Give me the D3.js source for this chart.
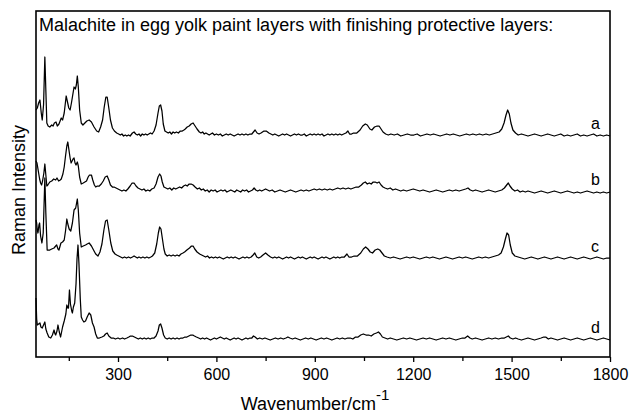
<!DOCTYPE html>
<html>
<head>
<meta charset="utf-8">
<script src="https://cdn.jsdelivr.net/npm/d3@7"></script>
<style>
  body { margin: 0; background: #fff; }
  svg text { font-family: "Liberation Sans", Arial, sans-serif; fill: #000; }
</style>
</head>
<body>
<div id="chart"></div>
<script>
// Raman spectra, [wavenumber cm-1, intensity above own baseline]
const spectrumA = [[50,25],[54,27],[58,32],[62,35],[66,22],[69,15],[73,30],[77,78],[80,45],[83,12],[87,9],[92,8],[98,10],[102,9],[106,12],[111,13],[115,9],[120,11],[127,17],[131,15],[136,22],[142,39],[146,33],[150,27],[154,25],[158,32],[162,40],[166,48],[170,46],[173,50],[176,59],[179,48],[183,25],[188,12],[193,10],[199,12],[205,14],[212,15],[219,13],[227,8],[235,4],[241,3],[247,8],[253,15],[258,28],[263,38],[267,38],[272,27],[277,15],[283,7],[289,4],[296,2],[302,1],[307,0],[312,1],[317,-1],[322,0],[327,-1],[332,0],[337,-1],[344,2],[349,3],[354,1],[359,0],[364,1],[369,-1],[374,1],[379,0],[384,1],[389,0],[394,1],[399,2],[404,1],[410,4],[416,10],[422,22],[426,29],[430,30],[434,24],[438,11],[443,4],[448,3],[453,2],[458,3],[463,1],[468,3],[473,2],[478,3],[484,2],[490,4],[496,4],[501,5],[505,6],[511,8],[517,9],[523,11],[529,12],[535,9],[541,6],[548,3],[553,2],[558,3],[563,1],[568,2],[573,1],[578,0],[583,1],[588,2],[594,0],[600,1],[606,0],[612,1],[618,-1],[624,0],[630,1],[636,0],[642,1],[648,0],[654,-1],[660,0],[666,1],[672,0],[678,1],[684,0],[690,1],[696,0],[702,1],[708,1],[713,3],[718,5],[724,2],[730,1],[736,2],[745,4],[752,4],[760,2],[766,1],[772,0],[778,1],[784,0],[790,-1],[796,0],[802,1],[808,0],[814,1],[820,0],[826,-1],[832,0],[838,1],[844,0],[850,1],[856,0],[862,0],[868,1],[874,-1],[880,0],[886,1],[892,0],[898,1],[904,0],[910,1],[916,0],[922,1],[928,-1],[934,0],[940,1],[946,0],[952,1],[958,0],[964,1],[970,0],[976,1],[982,0],[988,1],[995,2],[1001,4],[1006,1],[1012,1],[1018,2],[1028,2],[1038,5],[1046,9],[1054,11],[1060,10],[1068,6],[1074,5],[1082,8],[1090,9],[1096,9],[1102,6],[1108,3],[1116,1],[1124,0],[1132,1],[1142,0],[1152,1],[1162,-1],[1172,0],[1182,1],[1192,0],[1202,0],[1212,1],[1222,-1],[1232,0],[1242,1],[1252,0],[1262,1],[1272,0],[1282,-1],[1292,0],[1302,1],[1312,0],[1322,1],[1332,0],[1342,-1],[1352,0],[1362,1],[1372,0],[1382,1],[1392,0],[1402,1],[1412,0],[1422,1],[1432,0],[1442,1],[1452,2],[1462,3],[1470,6],[1477,12],[1483,20],[1488,25],[1493,21],[1498,12],[1504,5],[1512,2],[1520,0],[1530,1],[1540,0],[1550,-1],[1560,0],[1570,1],[1580,0],[1590,-1],[1600,0],[1610,1],[1620,0],[1630,-1],[1640,0],[1650,1],[1660,-1],[1670,0],[1680,-1],[1690,0],[1700,1],[1710,-1],[1720,0],[1730,-1],[1740,0],[1750,1],[1760,-1],[1770,0],[1780,-1],[1790,0],[1800,-1]];

const spectrumB = [[50,30],[53,28],[57,20],[61,12],[64,8],[67,6],[70,10],[74,18],[77,27],[80,16],[83,5],[86,6],[92,9],[98,10],[104,12],[110,11],[114,13],[119,10],[124,11],[127,12],[132,17],[136,24],[140,35],[144,45],[147,49],[150,42],[154,33],[157,28],[160,30],[163,32],[166,33],[169,28],[172,26],[176,29],[179,25],[183,14],[188,7],[194,8],[199,9],[204,10],[209,14],[213,16],[219,16],[223,11],[228,6],[232,4],[237,5],[243,5],[249,7],[255,10],[261,14],[267,15],[272,11],[277,6],[283,4],[288,4],[294,3],[300,2],[306,1],[312,0],[318,1],[324,0],[330,2],[337,5],[343,8],[349,8],[355,5],[361,3],[367,2],[373,1],[379,2],[385,0],[391,1],[397,0],[403,2],[410,3],[416,7],[422,14],[427,17],[431,15],[435,9],[440,4],[446,3],[452,2],[458,3],[464,1],[470,3],[476,2],[482,3],[488,4],[494,3],[500,5],[506,6],[511,5],[517,7],[523,7],[529,6],[535,4],[542,2],[548,3],[554,1],[560,2],[566,0],[572,1],[578,-1],[584,1],[590,0],[596,1],[602,-1],[608,0],[614,1],[620,0],[626,1],[632,-1],[638,0],[644,1],[650,0],[656,-1],[662,1],[668,0],[674,-1],[680,1],[686,0],[692,1],[698,-1],[704,0],[710,1],[715,3],[720,1],[726,0],[732,1],[738,0],[744,1],[750,2],[756,1],[762,0],[770,1],[778,-1],[786,0],[794,1],[802,0],[810,-1],[818,0],[826,1],[834,0],[842,-1],[850,0],[858,1],[866,0],[874,1],[882,0],[890,1],[898,2],[906,1],[914,2],[922,1],[930,2],[938,1],[946,2],[954,1],[962,2],[970,3],[978,2],[986,3],[994,2],[1002,3],[1010,2],[1018,3],[1026,4],[1034,4],[1042,6],[1048,8],[1054,9],[1060,7],[1066,8],[1072,7],[1078,9],[1084,9],[1090,8],[1096,9],[1102,6],[1108,4],[1114,3],[1122,2],[1130,3],[1138,1],[1146,2],[1154,1],[1162,0],[1170,1],[1180,0],[1190,1],[1200,2],[1210,1],[1220,0],[1230,1],[1240,0],[1250,-1],[1260,0],[1270,1],[1280,0],[1290,-1],[1300,0],[1310,1],[1320,0],[1330,1],[1340,0],[1350,1],[1360,2],[1367,3],[1374,1],[1382,0],[1390,1],[1400,0],[1410,-1],[1420,0],[1430,1],[1440,0],[1450,-1],[1460,0],[1470,1],[1478,3],[1485,6],[1490,8],[1495,5],[1502,2],[1510,0],[1518,1],[1526,-1],[1534,0],[1542,-1],[1550,0],[1560,-1],[1570,-2],[1580,-1],[1590,0],[1600,-1],[1610,-2],[1620,-1],[1630,0],[1640,-1],[1650,-2],[1660,-1],[1670,0],[1680,-1],[1690,-2],[1700,-1],[1710,-2],[1720,-1],[1730,0],[1740,-1],[1750,-2],[1760,-1],[1770,-2],[1780,-1],[1790,-2],[1800,-1]];

const spectrumC = [[50,38],[52,35],[54,28],[56,25],[59,33],[61,35],[64,22],[68,15],[72,25],[77,80],[80,45],[84,8],[88,8],[92,8],[98,9],[105,10],[110,12],[113,13],[117,9],[120,8],[126,15],[131,16],[136,18],[140,27],[144,39],[147,34],[151,29],[156,27],[161,35],[166,48],[171,50],[176,59],[179,48],[183,25],[188,11],[194,12],[201,13],[206,14],[212,15],[219,12],[227,7],[232,4],[239,2],[245,6],[251,14],[257,28],[262,37],[267,38],[272,28],[278,15],[284,7],[291,4],[296,3],[302,2],[308,1],[314,0],[320,1],[326,0],[332,1],[338,0],[344,1],[349,2],[354,1],[359,0],[364,1],[370,0],[376,1],[382,0],[388,1],[394,0],[400,1],[405,2],[412,5],[418,14],[423,25],[427,31],[431,29],[435,20],[440,9],[444,4],[450,2],[456,3],[462,2],[468,3],[474,2],[480,3],[486,2],[492,4],[498,5],[503,6],[510,8],[518,10],[524,12],[529,12],[534,9],[541,6],[549,4],[555,3],[561,2],[567,1],[573,2],[579,0],[585,1],[591,0],[597,1],[603,0],[609,1],[615,0],[621,-1],[627,0],[633,1],[639,0],[645,1],[651,0],[657,1],[663,0],[669,-1],[675,0],[681,1],[687,0],[693,1],[699,0],[706,1],[712,3],[717,5],[723,1],[729,0],[735,1],[742,3],[750,5],[757,3],[765,1],[772,0],[778,1],[784,0],[790,1],[796,0],[802,-1],[808,0],[814,1],[820,0],[826,1],[832,0],[838,-1],[844,0],[850,1],[856,0],[862,1],[868,0],[874,-1],[880,0],[886,1],[892,0],[898,1],[904,0],[910,-1],[916,0],[922,1],[928,0],[934,1],[940,0],[946,-1],[952,0],[958,1],[964,0],[970,1],[976,0],[982,1],[990,1],[998,4],[1004,1],[1012,1],[1020,2],[1030,2],[1040,5],[1048,9],[1055,11],[1062,9],[1069,6],[1076,5],[1084,8],[1092,9],[1098,8],[1105,5],[1112,2],[1120,1],[1130,0],[1140,1],[1150,0],[1160,-1],[1170,0],[1180,1],[1190,0],[1200,1],[1210,0],[1220,-1],[1230,0],[1240,1],[1250,0],[1260,1],[1270,0],[1280,-1],[1290,0],[1300,1],[1310,0],[1320,-1],[1330,0],[1340,1],[1350,0],[1360,1],[1370,0],[1380,-1],[1390,0],[1400,1],[1410,0],[1420,1],[1430,0],[1440,1],[1450,2],[1460,3],[1468,5],[1475,11],[1481,19],[1486,25],[1491,23],[1496,13],[1502,5],[1510,2],[1520,1],[1530,0],[1540,-1],[1550,0],[1560,1],[1570,0],[1580,-1],[1590,0],[1600,1],[1610,0],[1620,-1],[1630,0],[1640,1],[1650,0],[1660,-1],[1670,0],[1680,1],[1690,0],[1700,-1],[1710,0],[1720,1],[1730,0],[1740,-1],[1750,0],[1760,1],[1770,0],[1780,-1],[1790,0],[1800,0]];

const spectrumD = [[50,41],[52,20],[54,14],[58,15],[62,16],[65,12],[69,11],[73,14],[77,17],[80,10],[84,6],[89,2],[95,1],[100,4],[105,9],[108,5],[110,4],[114,8],[117,14],[121,7],[125,2],[131,12],[136,18],[141,25],[144,34],[147,31],[149,31],[152,49],[155,35],[159,28],[161,26],[164,32],[168,36],[172,55],[175,80],[178,94],[181,75],[185,40],[188,22],[192,19],[196,17],[201,18],[206,22],[212,26],[217,24],[222,16],[227,12],[232,5],[237,1],[243,1],[251,2],[257,3],[262,5],[267,6],[272,3],[279,1],[286,1],[292,0],[300,1],[306,0],[314,1],[320,0],[327,1],[333,2],[338,3],[344,3],[350,2],[356,1],[362,0],[368,1],[374,0],[380,1],[386,0],[392,1],[398,0],[404,1],[410,1],[416,3],[422,8],[426,14],[430,15],[434,11],[439,4],[444,1],[450,0],[456,1],[462,0],[468,1],[474,0],[480,1],[486,0],[492,1],[498,1],[504,2],[510,2],[516,3],[522,4],[528,4],[533,3],[539,2],[546,1],[552,0],[558,1],[564,0],[570,1],[576,0],[582,-1],[588,0],[594,1],[600,0],[606,1],[612,2],[618,1],[624,0],[630,1],[636,0],[642,-1],[648,0],[654,1],[660,0],[666,1],[672,0],[678,-1],[684,0],[690,1],[696,0],[702,1],[708,1],[713,3],[718,2],[725,0],[732,1],[740,0],[748,1],[756,0],[764,-1],[772,0],[780,1],[788,0],[796,1],[804,0],[812,1],[818,2],[824,1],[832,0],[840,1],[848,0],[856,-1],[864,0],[872,1],[880,0],[888,1],[896,0],[904,-1],[912,0],[920,1],[928,0],[936,1],[944,0],[952,-1],[960,0],[968,1],[976,0],[984,1],[992,0],[1000,1],[1008,1],[1016,0],[1024,2],[1032,2],[1040,4],[1048,5],[1056,4],[1064,4],[1072,3],[1080,5],[1088,6],[1094,7],[1100,5],[1106,2],[1114,1],[1122,0],[1130,1],[1140,0],[1150,-1],[1160,0],[1170,1],[1180,0],[1190,1],[1200,0],[1210,-1],[1220,0],[1230,1],[1240,0],[1250,1],[1260,0],[1270,-1],[1280,0],[1290,1],[1300,0],[1310,1],[1320,0],[1330,-1],[1340,0],[1350,1],[1358,1],[1366,3],[1373,1],[1380,0],[1390,1],[1400,0],[1410,-1],[1420,0],[1430,1],[1440,0],[1450,1],[1460,0],[1470,1],[1478,1],[1484,2],[1490,3],[1496,1],[1504,0],[1512,1],[1520,0],[1530,-1],[1540,0],[1550,1],[1560,0],[1570,-1],[1580,0],[1590,1],[1598,2],[1604,2],[1612,0],[1620,1],[1630,0],[1640,-1],[1650,0],[1660,1],[1670,0],[1680,-1],[1690,0],[1700,1],[1710,0],[1720,-1],[1730,0],[1740,1],[1750,0],[1760,-1],[1770,0],[1780,1],[1790,0],[1800,-1]];

const traceNames = ['a', 'b', 'c', 'd'];
const traceOffsets = [222, 166, 99, 18];   // vertical stacking offset of each spectrum
const majorTicks = [300, 600, 900, 1200, 1500, 1800];
const minorTicks = [150, 450, 750, 1050, 1350, 1650];
const chartTitle = 'Malachite in egg yolk paint layers with finishing protective layers:';

const spectra = [spectrumA, spectrumB, spectrumC, spectrumD];

const width = 629, height = 414;
const margin = {top: 11, right: 19, bottom: 57, left: 36};

const svg = d3.select('#chart').append('svg')
    .attr('width', width)
    .attr('height', height);

const x = d3.scaleLinear()
    .domain([50, 1800])
    .range([margin.left, width - margin.right]);

const y = d3.scaleLinear()
    .domain([0, 346])
    .range([height - margin.bottom, margin.top]);

const line = d3.line()
    .x(d => x(d[0]))
    .y(d => y(d[1]));

// spectra
svg.append('g')
    .attr('fill', 'none')
    .attr('stroke', '#000')
    .attr('stroke-width', 1.25)
    .attr('stroke-linejoin', 'round')
  .selectAll('path')
  .data(spectra)
  .enter().append('path')
    .attr('d', (d, i) => line(d.map(p => [p[0], p[1] + traceOffsets[i]])));

// trace letters
svg.append('g').selectAll('text')
  .data(traceNames)
  .enter().append('text')
    .attr('x', x(1742))
    .attr('y', (d, i) => y(traceOffsets[i] + 6))
    .attr('font-size', 16)
    .text(d => d);

// x axis, major + minor ticks pointing out
const xAxis = d3.axisBottom(x)
    .tickValues(majorTicks)
    .tickSize(5)
    .tickPadding(7)
    .tickFormat(d3.format('d'));

const gx = svg.append('g')
    .attr('transform', 'translate(0,' + (height - margin.bottom) + ')')
    .call(xAxis);
gx.select('.domain').remove();
gx.selectAll('.tick line').attr('stroke', '#000').attr('stroke-width', 1.3);
gx.selectAll('.tick text')
    .attr('font-family', '"Liberation Sans", Arial, sans-serif')
    .attr('font-size', 16);

svg.append('g')
    .attr('transform', 'translate(0,' + (height - margin.bottom) + ')')
    .call(d3.axisBottom(x).tickValues(minorTicks).tickSize(4).tickFormat(''))
    .call(g => g.select('.domain').remove())
    .selectAll('.tick line').attr('stroke-width', 1.3);

// frame
svg.append('rect')
    .attr('x', margin.left)
    .attr('y', margin.top)
    .attr('width', width - margin.left - margin.right)
    .attr('height', height - margin.top - margin.bottom)
    .attr('fill', 'none')
    .attr('stroke', '#000')
    .attr('stroke-width', 1.6);

svg.append('text')
    .attr('x', 39)
    .attr('y', 31)
    .attr('font-size', 18)
    .text(chartTitle);

const xTitle = svg.append('text')
    .attr('x', 315)
    .attr('y', 410)
    .attr('text-anchor', 'middle')
    .attr('font-size', 18);
xTitle.append('tspan').text('Wavenumber/cm');
xTitle.append('tspan').attr('dy', -10).attr('font-size', 15).text('-1');

svg.append('text')
    .attr('transform', 'translate(25,190) rotate(-90)')
    .attr('text-anchor', 'middle')
    .attr('font-size', 18)
    .text('Raman Intensity');
</script>
</body>
</html>
